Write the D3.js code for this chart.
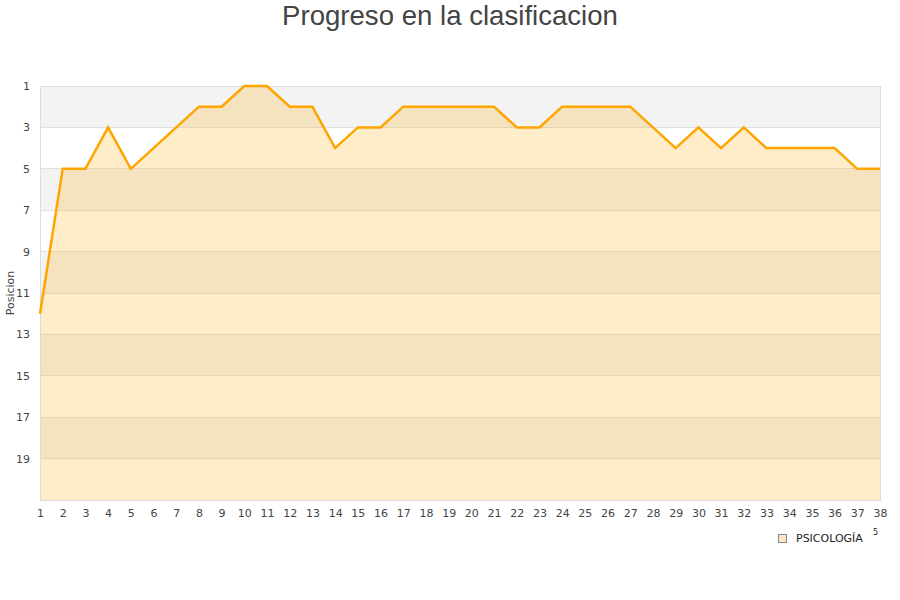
<!DOCTYPE html>
<html><head><meta charset="utf-8">
<script src="https://cdn.jsdelivr.net/npm/d3@7"></script>
<style>body{margin:0;background:#fff}svg{display:block}</style>
</head><body>
<svg id="c" width="900" height="600"></svg>
<script>
const title = "Progreso en la clasificacion";
const yTitle = "Posicion";
const seriesName = "PSICOLOGÍA";
const jornadas = d3.range(1, 39);
const posiciones = [12,5,5,3,5,4,3,2,2,1,1,2,2,4,3,3,2,2,2,2,2,3,3,2,2,2,2,3,4,3,4,3,4,4,4,4,5,5];
const yTicks = [1,3,5,7,9,11,13,15,17,19];

const svg = d3.select("#c");
const L = 40, R = 880, T = 86, B = 500;
const x = d3.scalePoint().domain(jornadas).range([L, R]);
const y = d3.scaleLinear().domain([1, 21]).range([T, B]);

// alternating bands
const bands = d3.range(1, 21, 2);
svg.selectAll("rect.band").data(bands).enter().append("rect")
  .attr("x", L).attr("width", R - L)
  .attr("y", d => y(d)).attr("height", d => y(d + 2) - y(d))
  .attr("fill", (d, i) => i % 2 === 0 ? "#f3f3f3" : "#ffffff");

// gridlines
svg.selectAll("line.grid").data(yTicks.concat([21])).enter().append("line")
  .attr("x1", L).attr("x2", R).attr("y1", d => y(d)).attr("y2", d => y(d))
  .attr("stroke", "#e0e0e0").attr("stroke-width", 1).attr("shape-rendering", "crispEdges");

const data = jornadas.map((j, i) => ({j, p: posiciones[i]}));
const area = d3.area().x(d => x(d.j)).y0(y(21)).y1(d => y(d.p));
svg.append("path").datum(data).attr("d", area).attr("fill", "#ffa500").attr("fill-opacity", 0.21);

// plot border
svg.append("rect").attr("x", L + 0.5).attr("y", T + 0.5).attr("width", R - L).attr("height", B - T)
  .attr("fill", "none").attr("stroke", "#dcdcdc");

const line = d3.line().x(d => x(d.j)).y(d => y(d.p));
svg.append("path").datum(data).attr("d", line).attr("fill", "none")
  .attr("stroke", "#ffa500").attr("stroke-width", 2.5).attr("stroke-linejoin", "miter");

// y axis labels
const yAxis = d3.axisLeft(y).tickValues(yTicks).tickSize(0).tickPadding(10);
const gy = svg.append("g").attr("transform", `translate(${L},0)`).call(yAxis);
gy.select(".domain").remove();
gy.selectAll("text").attr("font-family", "DejaVu Sans").attr("font-size", 11).attr("fill", "#444");

// x axis labels
const xAxis = d3.axisBottom(x).tickSize(0).tickPadding(9);
const gx = svg.append("g").attr("transform", `translate(0,${B})`).call(xAxis);
gx.select(".domain").remove();
gx.selectAll("text").attr("font-family", "DejaVu Sans").attr("font-size", 11).attr("fill", "#444");

// titles
svg.append("text").attr("x", 450).attr("y", 25).attr("text-anchor", "middle")
  .attr("font-family", "Liberation Sans").attr("font-size", 27.6).attr("fill", "#444").text(title);
svg.append("text").attr("transform", "translate(14,293) rotate(-90)").attr("text-anchor", "middle")
  .attr("font-family", "DejaVu Sans").attr("font-size", 11).attr("fill", "#444").text(yTitle);

// legend
svg.append("rect").attr("x", 778.5).attr("y", 534.5).attr("width", 8).attr("height", 8)
  .attr("fill", "#fbe5c0").attr("stroke", "#888");
svg.append("text").attr("x", 796).attr("y", 542).attr("font-family", "DejaVu Sans").attr("font-size", 11)
  .attr("fill", "#222").text(seriesName);
svg.append("text").attr("x", 873).attr("y", 535).attr("font-family", "DejaVu Sans").attr("font-size", 8)
  .attr("fill", "#222").text("5");
</script>
</body></html>
